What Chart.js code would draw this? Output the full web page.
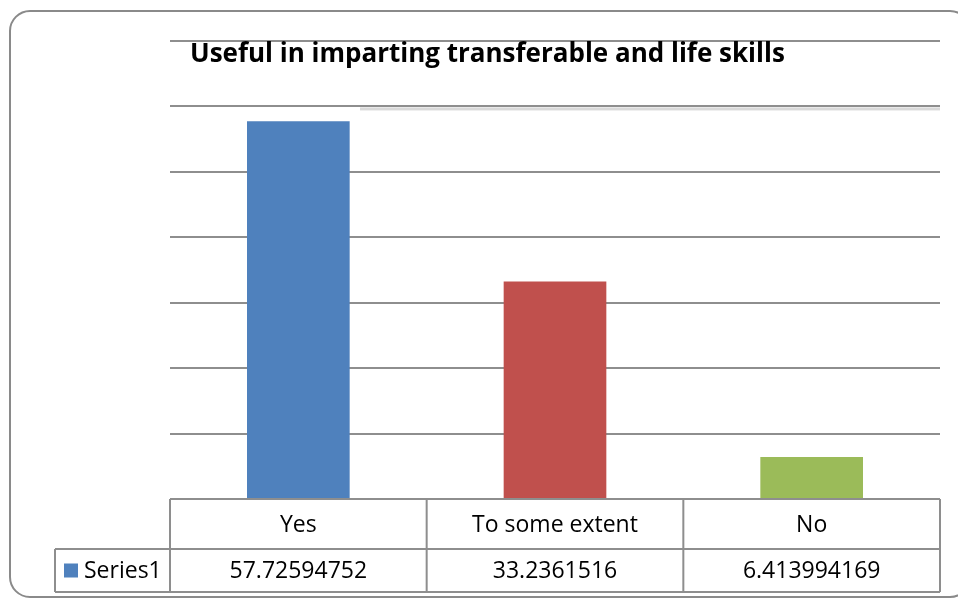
<!DOCTYPE html>
<html>
<head>
<meta charset="utf-8">
<script src="https://cdn.jsdelivr.net/npm/chart.js@4/dist/chart.umd.min.js"></script>
<style>
  html, body { margin: 0; padding: 0; background: #fff; }
  canvas { display: block; }
</style>
</head>
<body>
<canvas id="myChart" width="958" height="599"></canvas>
<script>
var chartTitle = 'Useful in imparting transferable and life skills';
var categories = ['Yes', 'To some extent', 'No'];
var seriesName = 'Series1';
var series1 = [57.72594752, 33.2361516, 6.413994169];
var barColors = ['#4f81bd', '#c0504d', '#9bbb59'];
var yMax = 70;
var yStep = 10;

var lineGrey = '#8e8e8e';
var textFont = '23px "Open Sans", sans-serif';

// rounded outer frame + the title
var framePlugin = {
  id: 'frame',
  beforeDraw: function (chart) {
    var ctx = chart.ctx;
    ctx.save();
    ctx.fillStyle = '#fff';
    ctx.fillRect(0, 0, chart.width, chart.height);
    ctx.strokeStyle = '#8a8a8a';
    ctx.lineWidth = 2;
    ctx.beginPath();
    ctx.roundRect(10, 11, 960, 586, 20);
    ctx.stroke();
    ctx.restore();
  },
  afterDraw: function (chart) {
    var ctx = chart.ctx;
    var area = chart.chartArea;
    ctx.save();
    // faint shadow under second gridline
    ctx.fillStyle = '#d9d9d9';
    ctx.fillRect(360, chart.scales.y.getPixelForValue(60) + 1, area.right - 360, 3);
    ctx.fillStyle = '#000';
    ctx.font = 'bold 26px "Open Sans", sans-serif';
    ctx.textAlign = 'left';
    ctx.textBaseline = 'alphabetic';
    ctx.fillText(chartTitle, 190, 62);
    ctx.restore();
  }
};

// Excel-like data table under the plot
var tablePlugin = {
  id: 'dataTable',
  afterDraw: function (chart) {
    var ctx = chart.ctx;
    var area = chart.chartArea;
    var x = chart.scales.x;
    var n = categories.length;
    var colW = (area.right - area.left) / n;
    var top = area.bottom;
    var mid = top + 50;
    var bottom = mid + 43;
    var legendLeft = 55;

    ctx.save();
    ctx.strokeStyle = lineGrey;
    ctx.lineWidth = 2;
    ctx.beginPath();
    ctx.moveTo(area.left, top); ctx.lineTo(area.right, top);
    ctx.moveTo(legendLeft, mid); ctx.lineTo(area.right, mid);
    ctx.moveTo(legendLeft, bottom); ctx.lineTo(area.right, bottom);
    ctx.moveTo(legendLeft, mid); ctx.lineTo(legendLeft, bottom);
    for (var i = 0; i <= n; i++) {
      var lx = area.left + i * colW;
      ctx.moveTo(lx, top); ctx.lineTo(lx, bottom);
    }
    ctx.stroke();

    ctx.font = textFont;
    ctx.fillStyle = '#000';
    ctx.textAlign = 'center';
    ctx.textBaseline = 'middle';
    for (var j = 0; j < n; j++) {
      var cx = x.getPixelForValue(j);
      ctx.fillText(categories[j], cx, (top + mid) / 2 + 1);
      ctx.fillText(String(series1[j]), cx, (mid + bottom) / 2 + 1);
    }

    // legend key
    ctx.fillStyle = barColors[0];
    ctx.fillRect(64, (mid + bottom) / 2 - 7, 14, 14);
    ctx.fillStyle = '#000';
    ctx.textAlign = 'left';
    ctx.fillText(seriesName, 84, (mid + bottom) / 2 + 1);
    ctx.restore();
  }
};

var ctx = document.getElementById('myChart');
var myChart = new Chart(ctx, {
  type: 'bar',
  data: {
    labels: categories,
    datasets: [{
      label: seriesName,
      data: series1,
      backgroundColor: barColors,
      borderWidth: 0,
      categoryPercentage: 1,
      barPercentage: 0.4
    }]
  },
  options: {
    responsive: false,
    animation: false,
    layout: { padding: { left: 170, right: 18, top: 41, bottom: 100 } },
    plugins: {
      legend: { display: false },
      title: { display: false },
      tooltip: { enabled: false }
    },
    scales: {
      x: {
        display: false
      },
      y: {
        min: 0,
        max: yMax,
        ticks: { display: false, stepSize: yStep },
        border: { display: false },
        grid: { color: lineGrey, lineWidth: 2, drawTicks: false }
      }
    }
  },
  plugins: [framePlugin, tablePlugin]
});
</script>
</body>
</html>
